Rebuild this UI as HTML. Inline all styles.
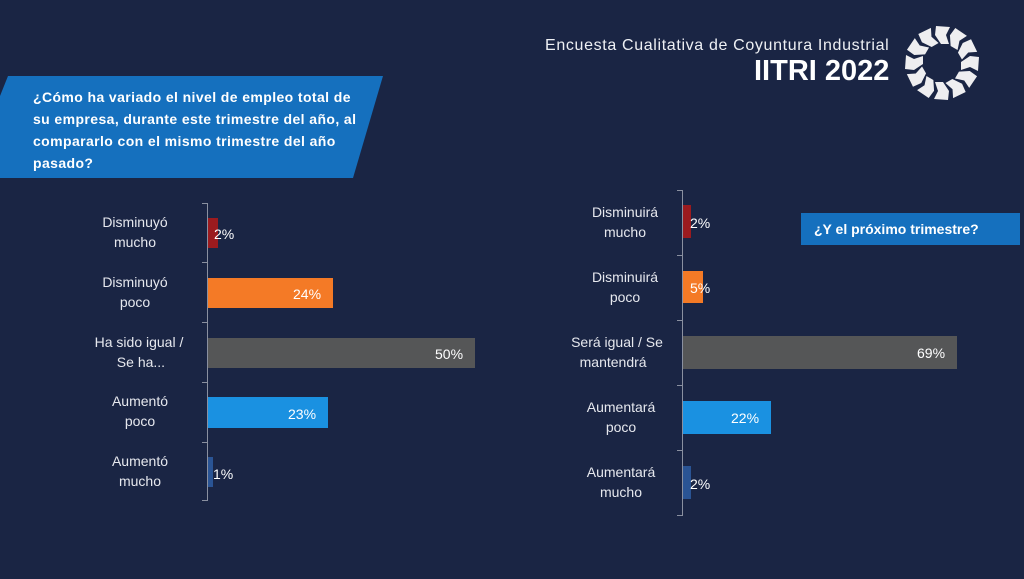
<!DOCTYPE html>
<html><head><meta charset="utf-8"><style>
body{margin:0;width:1024px;height:579px;background:#1a2544;overflow:hidden;font-family:"Liberation Sans",sans-serif;position:relative}
.a{position:absolute}
.lab{position:absolute;color:#e6e8ee;font-size:14px;line-height:20px;text-align:center}
.v{position:absolute;color:#fff;font-size:14px;line-height:20px}
</style></head><body>
<div class="a" style="left:545px;top:37px;color:#eef0f4;font-size:16px;letter-spacing:0.65px;white-space:nowrap">Encuesta Cualitativa de Coyuntura Industrial</div>
<div class="a" style="left:754px;top:55px;color:#fff;font-size:29px;font-weight:bold;letter-spacing:0px">IITRI 2022</div>
<svg class="a" style="left:895px;top:16px" width="94" height="94" viewBox="-47 -47 94 94">
<defs><polygon id="s" points="-6,-37 8,-36 4,-28 7,-19 -1,-19 -7,-28"/></defs>
<g fill="#eeeef0">
<use href="#s" transform="rotate(0)"/><use href="#s" transform="rotate(30)"/><use href="#s" transform="rotate(60)"/>
<use href="#s" transform="rotate(90)"/><use href="#s" transform="rotate(120)"/><use href="#s" transform="rotate(150)"/>
<use href="#s" transform="rotate(180)"/><use href="#s" transform="rotate(210)"/><use href="#s" transform="rotate(240)"/>
<use href="#s" transform="rotate(270)"/><use href="#s" transform="rotate(300)"/><use href="#s" transform="rotate(330)"/>
</g></svg>
<svg class="a" style="left:0;top:76px" width="384" height="104"><polygon points="8,0 383,0 353,102 0,102 0,20" fill="#1570be"/></svg>
<div class="a" style="left:33px;top:86px;color:#fff;font-size:14px;font-weight:bold;line-height:22px;width:350px;letter-spacing:0.4px;white-space:nowrap">¿Cómo ha variado el nivel de empleo total de<br>su empresa, durante este trimestre del año, al<br>compararlo con el mismo trimestre del año<br>pasado?</div>
<div class="a" style="left:801px;top:213px;width:219px;height:32px;background:#1570be;color:#fff;font-weight:bold;font-size:14px;line-height:32px;text-indent:13px">¿Y el próximo trimestre?</div>

<div class="a" style="left:207px;top:203px;width:1px;height:298px;background:#8a90a0"></div>
<div class="a" style="left:202px;top:203px;width:6px;height:1px;background:#8a90a0"></div>
<div class="a" style="left:202px;top:262px;width:6px;height:1px;background:#8a90a0"></div>
<div class="a" style="left:202px;top:322px;width:6px;height:1px;background:#8a90a0"></div>
<div class="a" style="left:202px;top:382px;width:6px;height:1px;background:#8a90a0"></div>
<div class="a" style="left:202px;top:442px;width:6px;height:1px;background:#8a90a0"></div>
<div class="a" style="left:202px;top:500px;width:6px;height:1px;background:#8a90a0"></div>
<div class="a" style="left:208px;top:218px;width:10px;height:30px;background:#9b1b1f"></div>
<div class="a" style="left:208px;top:278px;width:125px;height:30px;background:#f47a26"></div>
<div class="a" style="left:208px;top:338px;width:267px;height:30px;background:#555657"></div>
<div class="a" style="left:208px;top:397px;width:120px;height:31px;background:#1a91e1"></div>
<div class="a" style="left:208px;top:457px;width:5px;height:30px;background:#2a5494"></div>
<div class="lab" style="left:80px;width:110px;top:212px">Disminuyó<br>mucho</div>
<div class="lab" style="left:80px;width:110px;top:272px">Disminuyó<br>poco</div>
<div class="lab" style="left:80px;width:118px;top:332px">Ha sido igual /<br>&nbsp;Se ha...</div>
<div class="lab" style="left:85px;width:110px;top:391px">Aumentó<br>poco</div>
<div class="lab" style="left:85px;width:110px;top:451px">Aumentó<br>mucho</div>
<div class="v" style="left:214px;top:224px">2%</div>
<div class="v" style="left:293px;top:284px">24%</div>
<div class="v" style="left:435px;top:344px">50%</div>
<div class="v" style="left:288px;top:404px">23%</div>
<div class="v" style="left:213px;top:464px">1%</div>

<div class="a" style="left:682px;top:190px;width:1px;height:325px;background:#8a90a0"></div>
<div class="a" style="left:677px;top:190px;width:6px;height:1px;background:#8a90a0"></div>
<div class="a" style="left:677px;top:255px;width:6px;height:1px;background:#8a90a0"></div>
<div class="a" style="left:677px;top:320px;width:6px;height:1px;background:#8a90a0"></div>
<div class="a" style="left:677px;top:385px;width:6px;height:1px;background:#8a90a0"></div>
<div class="a" style="left:677px;top:450px;width:6px;height:1px;background:#8a90a0"></div>
<div class="a" style="left:677px;top:515px;width:6px;height:1px;background:#8a90a0"></div>
<div class="a" style="left:683px;top:205px;width:8px;height:33px;background:#9b1b1f"></div>
<div class="a" style="left:683px;top:271px;width:20px;height:32px;background:#f47a26"></div>
<div class="a" style="left:683px;top:336px;width:274px;height:33px;background:#555657"></div>
<div class="a" style="left:683px;top:401px;width:88px;height:33px;background:#1a91e1"></div>
<div class="a" style="left:683px;top:466px;width:8px;height:33px;background:#2a5494"></div>
<div class="lab" style="left:570px;width:110px;top:202px">Disminuirá<br>mucho</div>
<div class="lab" style="left:570px;width:110px;top:267px">Disminuirá<br>poco</div>
<div class="lab" style="left:556px;width:122px;top:332px">Será igual / Se<br>mantendrá&nbsp;&nbsp;</div>
<div class="lab" style="left:566px;width:110px;top:397px">Aumentará<br>poco</div>
<div class="lab" style="left:566px;width:110px;top:462px">Aumentará<br>mucho</div>
<div class="v" style="left:690px;top:213px">2%</div>
<div class="v" style="left:690px;top:278px">5%</div>
<div class="v" style="left:917px;top:343px">69%</div>
<div class="v" style="left:731px;top:408px">22%</div>
<div class="v" style="left:690px;top:474px">2%</div>
</body></html>
